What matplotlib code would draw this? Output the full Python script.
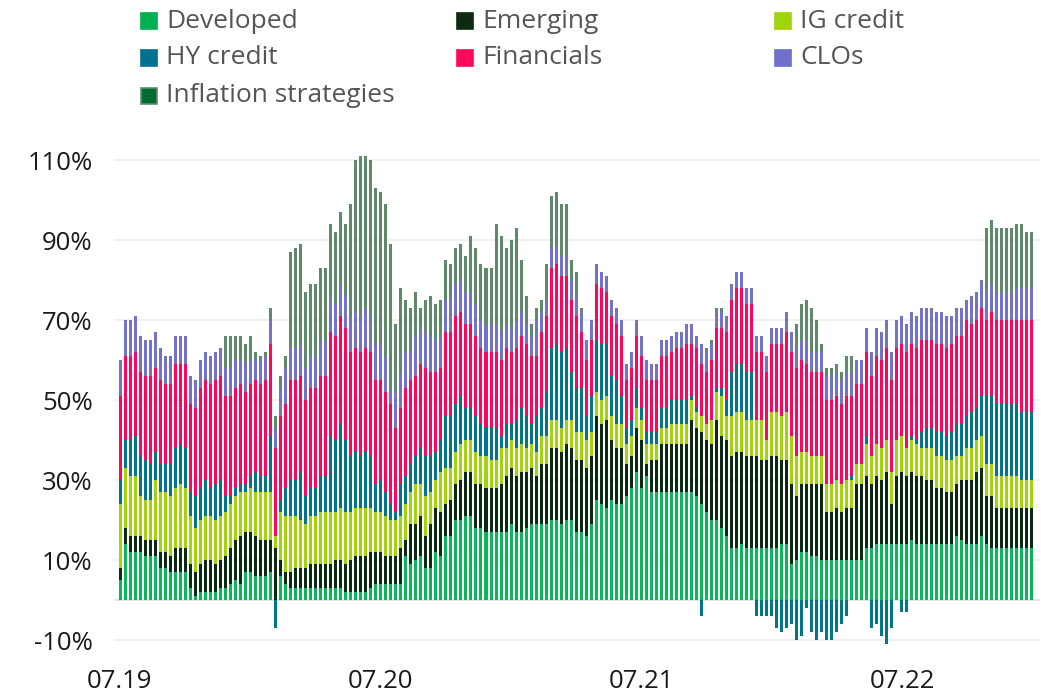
import numpy as np
import pandas as pd
import matplotlib
matplotlib.use("Agg")
import matplotlib.pyplot as plt
import matplotlib.dates as mdates
from matplotlib.patches import Rectangle
from matplotlib.ticker import FuncFormatter

plt.rcParams['font.family'] = ['Open Sans', 'DejaVu Sans']

# weekly observations, share of allocation in %
dates = pd.date_range('2019-07-03', periods=183, freq='7D')

developed = [5, 14, 12, 12, 12, 11, 11, 11, 8, 8, 7, 7, 7, 7, 3, 1, 2, 2, 2, 2,
             3, 3, 4, 5, 4, 7, 7, 6, 6, 6, 7, 0, 6, 4, 3, 3, 3, 3, 3, 3,
             3, 3, 3, 3, 3, 2, 2, 2, 2, 2, 3, 4, 4, 4, 4, 4, 4, 11, 9, 10,
             11, 8, 8, 12, 11, 16, 16, 20, 20, 21, 21, 18, 18, 17, 17, 17, 17, 17, 19, 17,
             17, 18, 19, 19, 19, 19, 20, 20, 19, 20, 20, 17, 17, 16, 19, 25, 24, 23, 25, 24,
             24, 26, 28, 32, 28, 31, 27, 27, 27, 27, 27, 27, 27, 27, 27, 26, 24, 22, 20, 20,
             18, 16, 13, 13, 14, 13, 13, 13, 13, 13, 13, 13, 14, 14, 9, 10, 12, 12, 11, 11,
             10, 10, 10, 10, 10, 10, 10, 10, 10, 13, 13, 14, 14, 14, 14, 14, 14, 14, 15, 14,
             14, 14, 14, 14, 14, 14, 14, 16, 15, 14, 14, 14, 16, 14, 13, 13, 13, 13, 13, 13,
             13, 13, 13]
emerging = [3, 4, 4, 4, 4, 4, 4, 4, 4, 4, 4, 6, 6, 6, 6, 6, 7, 8, 8, 7,
            7, 8, 9, 10, 12, 10, 10, 10, 9, 9, 8, 13, 4, 3, 4, 5, 5, 5, 6, 6,
            6, 6, 6, 7, 7, 7, 8, 9, 9, 9, 9, 8, 8, 7, 7, 7, 9, 4, 10, 9,
            10, 8, 11, 11, 11, 8, 9, 9, 10, 11, 11, 11, 11, 11, 11, 11, 12, 14, 14, 14,
            15, 14, 14, 12, 15, 15, 18, 18, 18, 19, 18, 18, 18, 17, 17, 21, 20, 22, 15, 14,
            14, 8, 8, 11, 12, 3, 8, 8, 12, 12, 12, 12, 12, 12, 18, 17, 18, 18, 19, 25,
            23, 24, 23, 24, 23, 23, 23, 23, 22, 22, 23, 23, 21, 21, 20, 16, 17, 17, 18, 18,
            19, 12, 12, 13, 12, 13, 13, 19, 19, 18, 16, 17, 16, 18, 10, 17, 18, 17, 17, 17,
            17, 16, 16, 14, 14, 13, 13, 13, 15, 16, 16, 18, 17, 12, 13, 10, 10, 10, 10, 10,
            10, 10, 10]
ig_credit = [16, 15, 15, 15, 10, 10, 10, 15, 15, 15, 15, 15, 16, 15, 12, 11, 11, 11, 11, 11,
             11, 11, 11, 11, 11, 10, 11, 11, 12, 12, 12, 3, 12, 14, 14, 13, 12, 11, 12, 12,
             13, 13, 13, 12, 13, 13, 12, 12, 12, 12, 11, 10, 10, 10, 9, 9, 8, 9, 8, 10,
             8, 10, 8, 7, 10, 9, 8, 8, 9, 8, 8, 8, 7, 8, 7, 7, 9, 7, 7, 7,
             7, 6, 6, 6, 7, 7, 7, 7, 6, 6, 7, 7, 7, 7, 6, 6, 6, 6, 6, 6,
             6, 5, 5, 5, 5, 5, 4, 4, 4, 4, 5, 5, 5, 5, 5, 4, 4, 4, 6, 7,
             10, 6, 10, 10, 10, 9, 9, 9, 10, 5, 11, 11, 11, 12, 12, 10, 8, 8, 7, 7,
             7, 7, 7, 7, 7, 7, 7, 5, 5, 8, 7, 8, 8, 8, 8, 9, 9, 7, 8, 8,
             7, 8, 8, 8, 8, 8, 8, 7, 6, 8, 8, 8, 8, 8, 8, 8, 8, 8, 8, 8,
             7, 7, 7]
hy_credit = [6, 7, 9, 10, 10, 10, 9, 7, 7, 7, 8, 10, 10, 10, 6, 8, 8, 9, 7, 9,
             9, 4, 2, 2, 2, 2, 3, 5, 4, 4, 14, -7, 3, 7, 9, 9, 12, 7, 7, 7,
             9, 9, 19, 18, 21, 18, 14, 14, 13, 14, 13, 7, 8, 6, 4, 2, 8, 7, 7, 7,
             9, 10, 9, 7, 8, 13, 13, 12, 12, 8, 8, 9, 8, 7, 8, 8, 3, 6, 4, 7,
             9, 8, 5, 9, 7, 11, 18, 19, 19, 18, 12, 11, 11, 6, 9, 13, 14, 13, 10, 11,
             7, 4, 4, 5, 3, 3, 3, 3, 5, 5, 6, 6, 6, 6, 1, 1, -4, 0, 0, 1,
             2, 4, 11, 12, 12, 12, 12, -4, -4, -4, -4, -7, -8, -7, -6, -10, -9, -2, -8, -10,
             -8, -10, -10, -8, -6, -4, 1, 0, 0, 2, -7, -6, -9, -11, -7, 0, -3, -3, 1, 1,
             4, 5, 5, 6, 6, 6, 7, 8, 8, 8, 9, 8, 10, 17, 17, 18, 18, 18, 18, 18,
             17, 17, 17]
financials = [21, 21, 21, 21, 21, 21, 22, 21, 21, 20, 20, 21, 20, 21, 22, 22, 25, 25, 26, 26,
              26, 25, 25, 25, 25, 23, 23, 23, 23, 24, 23, 22, 21, 21, 25, 25, 24, 24, 25, 25,
              25, 25, 26, 26, 27, 28, 26, 26, 26, 26, 26, 26, 25, 25, 25, 21, 19, 22, 21, 20,
              21, 22, 21, 20, 18, 21, 21, 22, 21, 21, 21, 20, 19, 19, 19, 19, 19, 19, 18, 18,
              18, 18, 17, 15, 19, 19, 20, 20, 19, 18, 18, 18, 14, 14, 14, 14, 14, 13, 15, 14,
              15, 12, 13, 13, 13, 13, 13, 13, 13, 13, 12, 13, 13, 14, 13, 15, 13, 13, 15, 15,
              15, 17, 18, 19, 19, 17, 17, 17, 17, 17, 17, 17, 18, 20, 21, 22, 23, 22, 21, 21,
              21, 21, 21, 21, 20, 21, 20, 20, 20, 21, 20, 22, 22, 23, 23, 23, 23, 24, 23, 23,
              23, 22, 22, 22, 22, 22, 22, 22, 22, 24, 22, 22, 22, 19, 21, 21, 21, 21, 21, 21,
              23, 23, 23]
clos = [9, 9, 9, 9, 9, 9, 9, 9, 8, 7, 7, 7, 7, 7, 7, 7, 7, 7, 7, 7,
        7, 7, 7, 7, 6, 7, 6, 5, 6, 6, 6, 5, 7, 9, 8, 8, 8, 8, 8, 8,
        9, 9, 9, 8, 8, 8, 9, 9, 9, 10, 9, 9, 9, 9, 3, 9, 9, 9, 7, 10,
        9, 9, 9, 8, 8, 8, 8, 8, 8, 8, 8, 8, 7, 7, 7, 7, 7, 6, 6, 7,
        6, 5, 5, 9, 5, 4, 5, 4, 5, 5, 5, 5, 5, 5, 5, 5, 4, 4, 4, 4,
        4, 4, 4, 4, 5, 5, 4, 4, 4, 4, 4, 4, 4, 5, 5, 3, 5, 5, 4, 4,
        4, 4, 4, 4, 4, 4, 4, 4, 4, 4, 4, 4, 4, 5, 5, 5, 5, 6, 5, 5,
        5, 6, 6, 6, 6, 6, 6, 6, 6, 6, 6, 7, 7, 7, 7, 7, 7, 7, 8, 8,
        8, 8, 8, 8, 8, 8, 7, 7, 7, 5, 7, 7, 7, 7, 7, 7, 7, 7, 7, 8,
        8, 8, 8]
inflation = [0, 0, 0, 0, 0, 0, 0, 0, 0, 0, 0, 0, 0, 0, 0, 0, 0, 0, 0, 0,
             0, 8, 8, 6, 6, 5, 6, 2, 1, 1, 3, 3, 3, 3, 24, 25, 25, 19, 18, 18,
             18, 18, 18, 18, 18, 18, 28, 38, 40, 38, 39, 39, 38, 38, 37, 17, 21, 13, 11, 11,
             5, 8, 10, 9, 9, 10, 9, 9, 9, 9, 14, 14, 14, 14, 14, 25, 24, 19, 22, 23,
             13, 7, 3, 3, 3, 9, 13, 14, 13, 13, 5, 6, 1, 0, 0, 0, 0, 0, 0, 0,
             0, 0, 0, 0, 0, 0, 0, 0, 0, 0, 0, 0, 0, 0, 0, 0, 0, 1, 1, 1,
             1, 0, 0, 0, 0, 0, 0, 0, 0, 0, 0, 0, 0, 0, 0, 6, 9, 10, 11, 8,
             2, 2, 2, 2, 2, 4, 4, 0, 0, 0, 0, 0, 0, 0, 0, 0, 0, 0, 0, 0,
             0, 0, 0, 0, 0, 0, 0, 0, 0, 0, 0, 0, 0, 16, 16, 16, 16, 16, 16, 16,
             16, 14, 14]

labels = ["Developed", "Emerging", "IG credit", "HY credit", "Financials", "CLOs",
          "Inflation strategies"]
bar_colors = ['#0bb65a', '#0b2a12', '#a2d30b', '#00768c', '#ff055c', '#7373cb', '#5f8a69']
key_colors = ['#00b050', '#0d2b10', '#a0d40c', '#00728e', '#ff0a5b', '#7070cc', '#006a33']

fig = plt.figure(figsize=(10.41, 6.92), dpi=100)
ax = fig.add_axes([115 / 1041, 44 / 692, 925 / 1041, 498 / 692])

n = len(dates)
pos_base = np.zeros(n)
neg_base = np.zeros(n)
for vals, col in zip([developed, emerging, ig_credit, hy_credit, financials, clos, inflation],
                     bar_colors):
    v = np.array(vals, dtype=float)
    bottom = np.where(v >= 0, pos_base, neg_base)
    ax.bar(dates, v, bottom=bottom, width=4.2, color=col, linewidth=0, zorder=3)
    pos_base += np.clip(v, 0, None)
    neg_base += np.clip(v, None, 0)

# axes styling
ax.set_ylim(-12, 112.5)
ax.set_xlim(pd.Timestamp('2019-06-25'), pd.Timestamp('2023-01-09'))
ax.set_yticks([-10, 10, 30, 50, 70, 90, 110])
ax.yaxis.set_major_formatter(FuncFormatter(lambda y, _: f"{y:.0f}%"))
ax.xaxis.set_major_locator(mdates.MonthLocator(bymonth=7))
ax.xaxis.set_major_formatter(mdates.DateFormatter('%m.%y'))
ax.grid(axis='y', color='#efefef', linewidth=1.3, zorder=0)
ax.axhline(0, color='#e0e0e0', linewidth=1.3, zorder=1)
for s in ax.spines.values():
    s.set_visible(False)
ax.tick_params(axis='both', length=0, labelsize=18.5, labelcolor='#1a1a1a')
ax.tick_params(axis='y', pad=16)
ax.tick_params(axis='x', pad=15)

# legend laid out on a fixed grid like the source
col_x = [141, 457, 775]
row_y = [21, 58, 96]
for i, (lab, col) in enumerate(zip(labels, key_colors)):
    r, c = divmod(i, 3)
    x, y = col_x[c], row_y[r]
    edge = '#5f8f6a' if i == 6 else col
    fig.add_artist(Rectangle((x / 1041, 1 - (y + 8) / 692), 16 / 1041, 16 / 692,
                             transform=fig.transFigure, facecolor=col, edgecolor=edge,
                             linewidth=1.2))
    fig.text((x + 25) / 1041, 1 - y / 692, lab, fontsize=19, color='#555555',
             va='center', ha='left')

fig.savefig('out.png', dpi=100)
